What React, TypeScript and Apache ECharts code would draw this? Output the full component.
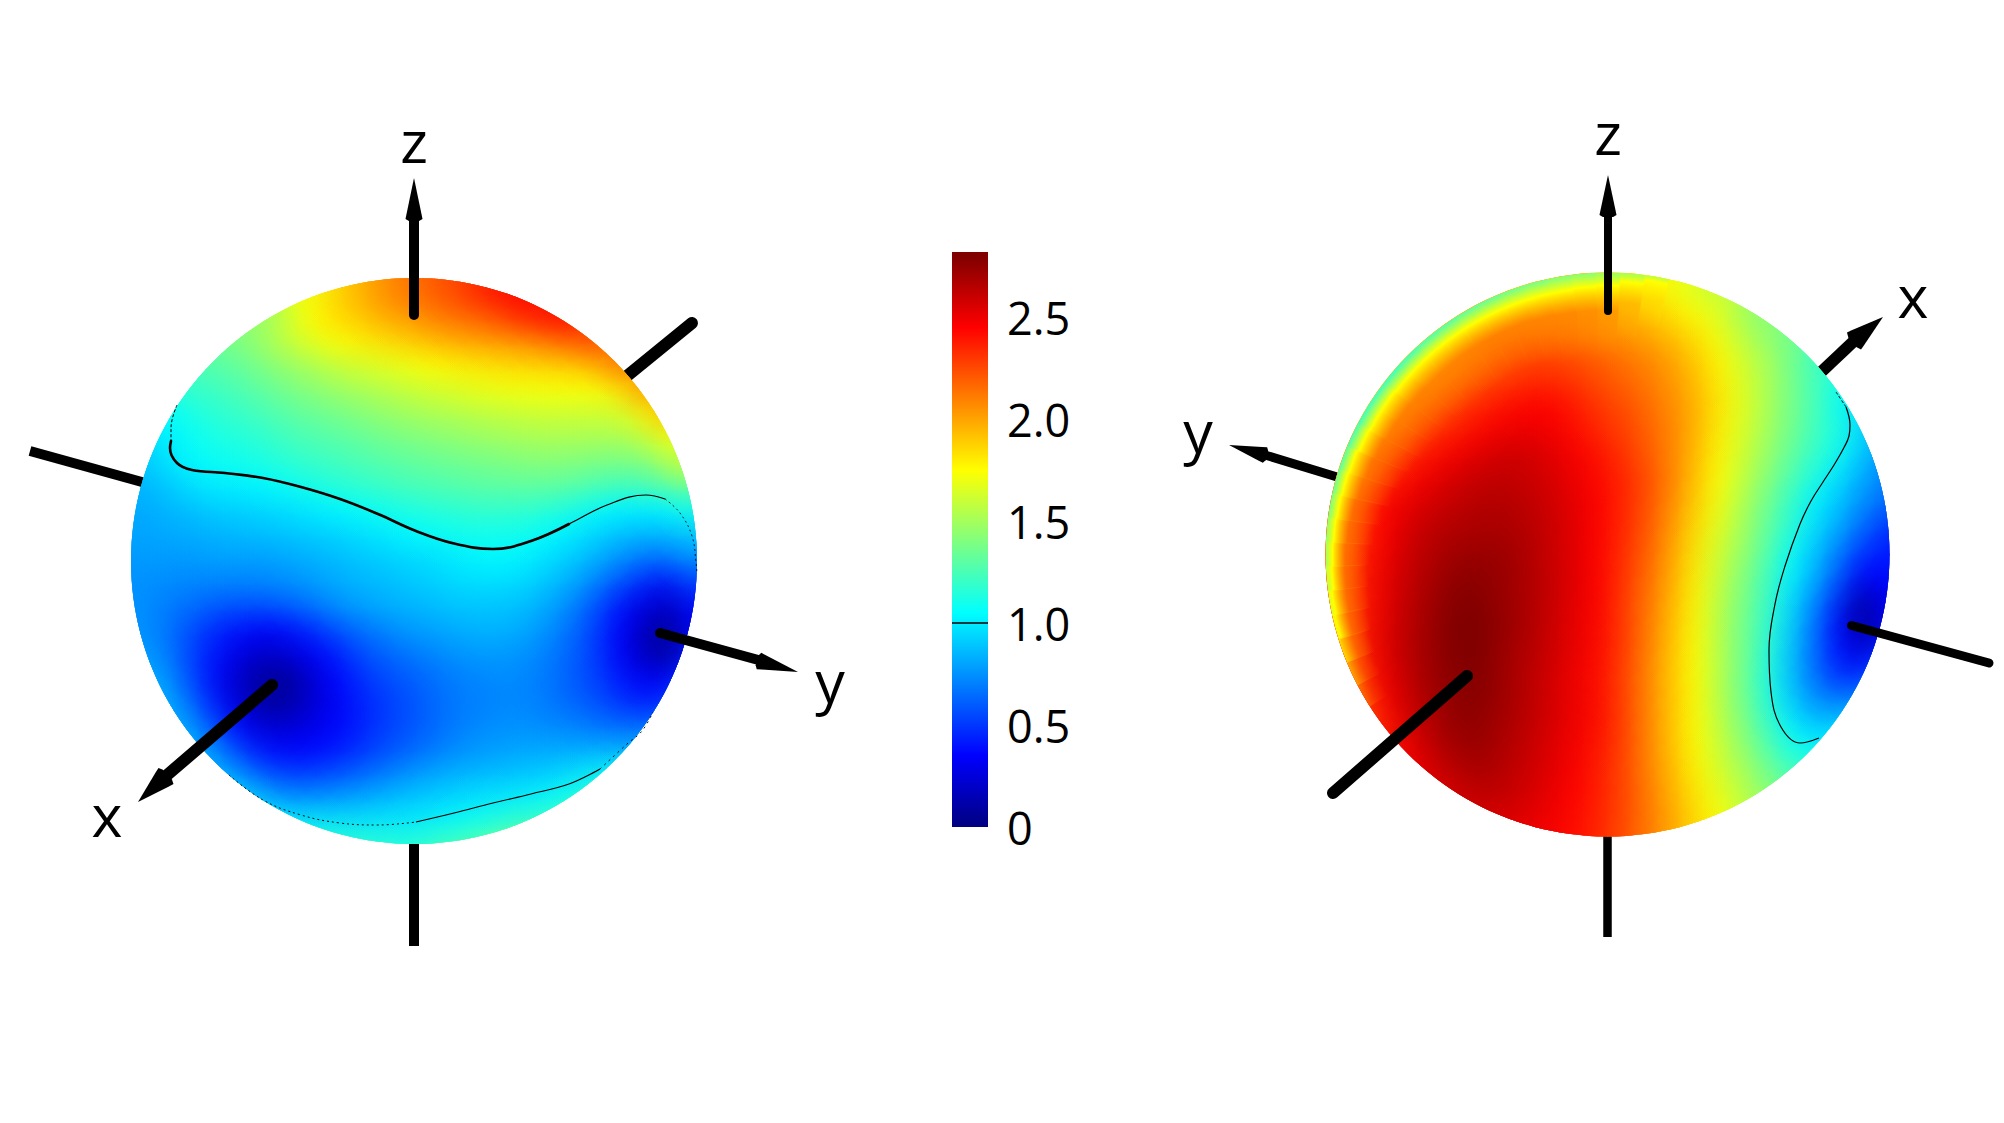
import React, { useEffect, useRef } from "react";
import * as echarts from "echarts";

const _ = null;
const colorbarTicks = [0, 0.5, 1, 1.5, 2, 2.5];
const colorMax = 2.82;
const jetValues = [0, 0.35, 1.05, 1.75, 2.45, 2.8];
const jetColors = [[0, 0, 128], [0, 0, 255], [0, 255, 255], [255, 255, 0], [255, 0, 0], [128, 0, 0]];

const leftField = [
[_,_,_,_,_,_,_,1.7,1.85,1.95,2.05,2.12,2.2,2.25,2.35,2.4,2.45,_,_,_,_,_,_,_],
[_,_,_,_,_,1.45,1.6,1.75,1.85,1.9,1.98,2.03,2.1,2.15,2.2,2.28,2.38,2.42,2.45,_,_,_,_,_],
[_,_,_,_,1.4,1.48,1.58,1.67,1.75,1.8,1.85,1.9,1.95,2.0,2.03,2.06,2.1,2.17,2.22,2.3,_,_,_,_],
[_,_,_,1.3,1.33,1.4,1.47,1.53,1.6,1.65,1.68,1.72,1.76,1.8,1.83,1.86,1.88,1.9,1.93,2.0,2.2,_,_,_],
[_,_,1.2,1.22,1.27,1.32,1.38,1.43,1.48,1.52,1.56,1.6,1.64,1.67,1.7,1.72,1.73,1.74,1.75,1.76,1.85,2.1,_,_],
[_,1.05,1.12,1.17,1.2,1.25,1.3,1.34,1.38,1.42,1.46,1.5,1.53,1.55,1.58,1.6,1.62,1.63,1.63,1.63,1.65,1.8,2.0,_],
[_,1.0,1.07,1.12,1.15,1.18,1.23,1.27,1.3,1.33,1.37,1.4,1.43,1.45,1.48,1.5,1.52,1.53,1.53,1.53,1.53,1.6,1.75,_],
[0.9,0.98,1.03,1.08,1.1,1.13,1.17,1.2,1.23,1.26,1.29,1.32,1.34,1.36,1.38,1.4,1.42,1.43,1.42,1.4,1.4,1.42,1.55,1.7],
[0.85,0.9,0.97,1.01,1.02,1.04,1.08,1.12,1.16,1.19,1.22,1.25,1.27,1.29,1.31,1.32,1.33,1.33,1.32,1.28,1.25,1.27,1.35,1.4],
[0.82,0.85,0.88,0.92,0.93,0.95,0.97,1.0,1.03,1.07,1.1,1.14,1.16,1.18,1.2,1.2,1.2,1.18,1.13,1.07,1.03,1.02,1.05,1.15],
[0.8,0.82,0.83,0.85,0.87,0.88,0.9,0.92,0.94,0.97,1.0,1.04,1.07,1.1,1.11,1.11,1.1,1.05,1.0,0.95,0.9,0.88,0.88,0.95],
[0.78,0.78,0.78,0.8,0.8,0.8,0.82,0.84,0.87,0.9,0.92,0.95,0.97,1.0,1.03,1.04,1.02,0.97,0.92,0.85,0.77,0.7,0.7,0.8],
[0.75,0.74,0.73,0.73,0.73,0.73,0.75,0.78,0.82,0.85,0.87,0.9,0.92,0.95,0.97,0.97,0.95,0.9,0.83,0.72,0.6,0.48,0.42,0.6],
[0.75,0.7,0.67,0.62,0.6,0.6,0.63,0.68,0.75,0.8,0.83,0.85,0.87,0.9,0.9,0.9,0.88,0.82,0.72,0.58,0.42,0.28,0.2,0.4],
[0.75,0.68,0.58,0.48,0.42,0.37,0.4,0.48,0.58,0.66,0.72,0.78,0.8,0.83,0.85,0.85,0.82,0.75,0.65,0.52,0.35,0.17,0.06,0.35],
[0.78,0.7,0.55,0.42,0.3,0.22,0.25,0.33,0.43,0.55,0.62,0.68,0.72,0.76,0.78,0.78,0.76,0.7,0.62,0.5,0.33,0.15,0.07,0.4],
[0.85,0.75,0.57,0.38,0.22,0.1,0.07,0.22,0.35,0.47,0.55,0.6,0.65,0.7,0.72,0.74,0.72,0.68,0.6,0.52,0.4,0.3,0.3,0.5],
[0.9,0.82,0.65,0.42,0.24,0.08,0.08,0.2,0.32,0.42,0.5,0.56,0.62,0.68,0.7,0.72,0.72,0.68,0.62,0.56,0.48,0.4,0.45,0.7],
[_,0.9,0.75,0.55,0.35,0.22,0.2,0.27,0.33,0.42,0.5,0.56,0.62,0.68,0.72,0.74,0.74,0.72,0.7,0.65,0.62,0.6,0.75,_],
[_,_,0.88,0.72,0.52,0.38,0.33,0.35,0.4,0.46,0.54,0.6,0.66,0.72,0.76,0.78,0.8,0.8,0.8,0.8,0.8,0.85,_,_],
[_,_,_,0.88,0.72,0.58,0.5,0.5,0.54,0.6,0.66,0.73,0.78,0.82,0.84,0.86,0.88,0.9,0.95,1.0,1.1,_,_,_],
[_,_,_,_,0.98,0.82,0.72,0.72,0.75,0.78,0.83,0.87,0.9,0.93,0.96,0.98,1.0,1.03,1.1,1.2,_,_,_,_],
[_,_,_,_,_,1.1,1.0,0.97,0.96,0.96,0.97,0.98,1.0,1.03,1.08,1.13,1.18,1.22,1.3,_,_,_,_,_],
[_,_,_,_,_,_,_,1.2,1.18,1.18,1.17,1.15,1.2,1.25,1.3,1.35,1.4,_,_,_,_,_,_,_],
];

const rightField = [
[_,_,_,_,_,_,_,1.8,1.85,1.88,1.9,1.88,1.83,1.78,1.72,1.65,1.55,_,_,_,_,_,_,_],
[_,_,_,_,_,1.85,1.92,1.97,2.0,2.02,2.03,2.02,1.98,1.92,1.8,1.72,1.65,1.5,1.4,_,_,_,_,_],
[_,_,_,_,1.85,1.95,2.05,2.1,2.13,2.13,2.1,2.07,2.03,1.98,1.92,1.82,1.7,1.55,1.45,1.35,_,_,_,_],
[_,_,_,1.85,1.95,2.05,2.13,2.2,2.24,2.25,2.23,2.18,2.13,2.08,2.0,1.9,1.77,1.62,1.5,1.38,1.2,_,_,_],
[_,_,1.8,1.95,2.05,2.14,2.22,2.28,2.33,2.34,2.3,2.24,2.18,2.12,2.04,1.94,1.8,1.65,1.52,1.38,1.25,1.1,_,_],
[_,1.75,1.95,2.07,2.17,2.26,2.34,2.4,2.44,2.44,2.38,2.3,2.24,2.16,2.07,1.97,1.82,1.67,1.52,1.38,1.25,1.08,0.95,_],
[_,1.9,2.05,2.18,2.28,2.36,2.43,2.48,2.5,2.48,2.42,2.34,2.28,2.19,2.09,1.97,1.8,1.65,1.5,1.37,1.23,1.13,0.93,_],
[1.8,2.05,2.2,2.3,2.4,2.47,2.53,2.57,2.57,2.53,2.47,2.4,2.31,2.21,2.09,1.95,1.78,1.62,1.47,1.33,1.2,1.08,0.9,0.75],
[1.9,2.12,2.3,2.42,2.5,2.56,2.6,2.62,2.6,2.56,2.5,2.43,2.35,2.25,2.1,1.93,1.75,1.58,1.43,1.27,1.13,0.97,0.82,0.7],
[2.05,2.27,2.42,2.5,2.56,2.61,2.65,2.66,2.63,2.58,2.52,2.45,2.35,2.24,2.08,1.9,1.72,1.53,1.37,1.2,1.02,0.9,0.75,0.65],
[2.1,2.3,2.45,2.55,2.62,2.66,2.68,2.68,2.65,2.6,2.53,2.45,2.35,2.22,2.05,1.86,1.68,1.5,1.33,1.17,0.97,0.83,0.65,0.5],
[2.12,2.33,2.47,2.58,2.65,2.7,2.72,2.72,2.67,2.6,2.53,2.45,2.33,2.2,2.02,1.83,1.63,1.47,1.3,1.08,0.9,0.72,0.52,0.42],
[2.15,2.35,2.5,2.6,2.68,2.75,2.76,2.73,2.68,2.61,2.53,2.45,2.32,2.17,2.0,1.8,1.6,1.42,1.25,1.03,0.85,0.62,0.36,0.4],
[2.15,2.35,2.5,2.62,2.7,2.78,2.78,2.73,2.68,2.61,2.53,2.45,2.3,2.15,1.97,1.78,1.57,1.4,1.22,0.97,0.75,0.48,0.13,0.35],
[2.1,2.35,2.52,2.63,2.72,2.8,2.8,2.75,2.68,2.6,2.52,2.44,2.3,2.13,1.95,1.77,1.55,1.38,1.2,0.93,0.68,0.37,0.03,0.3],
[2.0,2.35,2.52,2.64,2.72,2.8,2.8,2.73,2.67,2.6,2.52,2.43,2.3,2.12,1.93,1.76,1.55,1.38,1.17,0.9,0.65,0.38,0.2,0.4],
[1.9,2.3,2.5,2.62,2.72,2.78,2.8,2.72,2.65,2.58,2.5,2.42,2.28,2.1,1.92,1.75,1.55,1.37,1.15,0.88,0.65,0.45,0.4,0.6],
[1.8,2.25,2.47,2.6,2.7,2.77,2.78,2.72,2.65,2.57,2.5,2.42,2.28,2.1,1.92,1.76,1.55,1.37,1.15,0.9,0.72,0.6,0.65,0.8],
[_,2.15,2.4,2.57,2.67,2.75,2.76,2.7,2.64,2.57,2.5,2.42,2.28,2.1,1.92,1.76,1.57,1.4,1.2,0.98,0.83,0.85,0.95,_],
[_,_,2.35,2.52,2.63,2.72,2.74,2.68,2.62,2.55,2.48,2.4,2.28,2.1,1.93,1.76,1.6,1.44,1.27,1.08,1.0,1.02,_,_],
[_,_,_,2.45,2.58,2.66,2.7,2.66,2.6,2.54,2.47,2.38,2.27,2.1,1.95,1.78,1.63,1.5,1.35,1.22,1.15,_,_,_],
[_,_,_,_,2.52,2.6,2.64,2.63,2.58,2.52,2.45,2.37,2.27,2.12,1.97,1.82,1.68,1.55,1.42,1.3,_,_,_,_],
[_,_,_,_,_,2.55,2.58,2.58,2.54,2.5,2.43,2.36,2.26,2.13,2.0,1.85,1.72,1.6,1.48,_,_,_,_,_],
[_,_,_,_,_,_,_,2.52,2.5,2.47,2.42,2.35,2.25,2.13,2.0,1.88,1.75,_,_,_,_,_,_,_],
];

// rim of the right sphere: angle (deg, counter-clockwise), value on the edge, depth of yellow, depth and value of the inner stop, strength
const rimAngles = [80, 85, 90, 95, 100, 105, 110, 115, 120, 125, 130, 135, 140, 145, 150, 155, 160, 165, 170, 175, 180, 185, 190, 195, 200, 205, 210];
const rimEdge = [1.55, 1.5, 1.45, 1.42, 1.4, 1.37, 1.35, 1.32, 1.3, 1.27, 1.25, 1.22, 1.2, 1.2, 1.2, 1.24, 1.28, 1.33, 1.38, 1.44, 1.5, 1.57, 1.65, 1.72, 1.8, 1.9, 2.0];
const rimYellow = [5, 9, 13, 14, 15, 15, 15, 15, 15, 15, 15, 15, 15, 14, 14, 13, 11, 10, 9, 8, 7, 6, 4, 3, 0, 0, 0];
const rimInnerDepth = [24, 30, 38, 38, 38, 37, 36, 36, 36, 36, 36, 36, 35, 34, 33, 31, 29, 27, 24, 22, 20, 19, 18, 16, 14, 12, 10];
const rimInnerValue = [1.85, 1.95, 2.05, 2.08, 2.1, 2.1, 2.1, 2.1, 2.1, 2.1, 2.1, 2.1, 2.1, 2.1, 2.1, 2.1, 2.1, 2.1, 2.1, 2.1, 2.1, 2.1, 2.1, 2.1, 2.1, 2.15, 2.2];
const rimStrength = [1, 1, 1, 1, 1, 1, 1, 1, 1, 1, 1, 1, 1, 1, 1, 1, 1, 1, 1, 1, 1, 1, 1, 0.95, 0.85, 0.6, 0.35];

const isoUpperFull = [[171,441],[170,448],[177,463],[192,470],[225,473],[263,478],[301,487],[340,499],[378,514],[416,531],[454,543.5],[493,549],[531,541],[569,524],[607,505],[646,495],[665,499]];
const isoUpperThick = [[171,441],[170,448],[177,463],[192,470],[225,473],[263,478],[301,487],[340,499],[378,514],[416,531],[454,543.5],[493,549],[531,541],[569,524]];
const isoUpperDash = [[665,499],[680,513],[692,536],[696,562],[697,574]];
const isoUpperLeftDash = [[177,405],[171,428],[171,441]];
const isoLower = [[416,822],[454,813],[493,803],[531,794],[569,784],[600,769]];
const isoLowerDash = [[229,775],[263,800],[301,815],[340,823],[378,825],[416,822]];
const isoLowerDash2 = [[600,769],[627,744],[642,731],[653,712]];
const isoRight = [[1846,407],[1850,425],[1849,436],[1844,447.5],[1834,465],[1823,482],[1811,501],[1800,524],[1785,566],[1775,604],[1769,650],[1771,692],[1781,727],[1800,743],[1819,738]];
const isoRightDash = [[1836,392],[1846,407]];

const backSticks = [
  { p: [[600,398],[692,323]], w: 12, cap: "round" },
  { p: [[30,451],[160,487]], w: 10, cap: "butt" },
  { p: [[414,820],[414,946]], w: 10, cap: "butt" },
  { p: [[1607.5,820],[1607.5,937]], w: 8.5, cap: "butt" },
  { p: [[1800,392],[1854,341]], w: 12, cap: "butt" },
  { p: [[1360,484],[1265,455]], w: 9, cap: "butt" },
];
const frontSticks = [
  { p: [[414,315],[414,215]], w: 10, cap: "round" },
  { p: [[272,685],[166,776]], w: 12, cap: "round" },
  { p: [[660,633],[762,661]], w: 10, cap: "round" },
  { p: [[1608,311],[1608,210]], w: 8, cap: "round" },
  { p: [[1467,676],[1333,793]], w: 12, cap: "round" },
  { p: [[1851.5,625.5],[1989,663]], w: 9, cap: "round" },
];
const arrowHeads = [
  { tip: [414,178], base: [414,219], hw: 8.5 },
  { tip: [138,802], base: [166,776], hw: 11 },
  { tip: [798,672], base: [759,661], hw: 8.5 },
  { tip: [1608,175], base: [1608,215], hw: 8.5 },
  { tip: [1883,317], base: [1854,341], hw: 11 },
  { tip: [1229,445], base: [1265,455], hw: 8 },
];
const axisLetters = [
  { t: "z", x: 414, y: 110 }, { t: "x", x: 107, y: 784 }, { t: "y", x: 830, y: 650 },
  { t: "z", x: 1608, y: 102 }, { t: "x", x: 1913, y: 265 }, { t: "y", x: 1198, y: 400 },
];

function jet(v: number): number[] {
  const c = Math.max(0, Math.min(2.8, v));
  for (let k = 0; k < jetValues.length - 1; k++) {
    if (c <= jetValues[k + 1]) {
      const t = (c - jetValues[k]) / (jetValues[k + 1] - jetValues[k]);
      return jetColors[k].map((a, n) => Math.round(a + (jetColors[k + 1][n] - a) * t));
    }
  }
  return jetColors[jetColors.length - 1];
}
const rgba = (v: number, a: number) => { const c = jet(v); return `rgba(${c[0]},${c[1]},${c[2]},${a})`; };

const CELL = 24;
function fieldChildren(field: (number | null)[][], cx: number, cy: number, api: any) {
  const cells: { x: number; y: number; v: number }[] = [];
  field.forEach((row, i) => row.forEach((v, j) => {
    if (v === null) return;
    const p = api.coord([cx + (j - 11.5) * CELL, cy + (i - 11.5) * CELL]);
    cells.push({ x: p[0], y: p[1], v });
  }));
  const rects = cells.map((c) => ({
    type: "rect", shape: { x: c.x - 13, y: c.y - 13, width: 26, height: 26 }, style: { fill: rgba(c.v, 1) },
  }));
  const splat = (c: { x: number; y: number; v: number }) => ({
    type: "circle", shape: { cx: c.x, cy: c.y, r: 42 },
    style: { fill: { type: "radial", x: 0.5, y: 0.5, r: 0.5, colorStops: [
      { offset: 0, color: rgba(c.v, 0.6) }, { offset: 0.35, color: rgba(c.v, 0.42) },
      { offset: 0.7, color: rgba(c.v, 0.12) }, { offset: 1, color: rgba(c.v, 0) },
    ] } },
  });
  return [...rects, ...cells.map(splat), ...cells.slice().reverse().map(splat)];
}

function rimChildren(cx: number, cy: number, r: number) {
  return rimAngles.map((a, k) => {
    const o = rimInnerDepth[k], yd = rimYellow[k], e = rimEdge[k], s = rimStrength[k];
    const inner = r - o * 2.2;
    const stops: any[] = [
      { offset: inner / r, color: rgba(rimInnerValue[k], 0) },
      { offset: 1 - o / r, color: rgba(rimInnerValue[k], 0.6 * s) },
    ];
    if (yd > 0) stops.push({ offset: 1 - yd / r, color: rgba(1.75, s) });
    stops.push({ offset: 1, color: rgba(e, s) });
    return {
      type: "sector",
      shape: { cx, cy, r, r0: inner, startAngle: -(a + 2.6) * Math.PI / 180, endAngle: -(a - 2.6) * Math.PI / 180, clockwise: true },
      style: { fill: { type: "radial", x: cx, y: cy, r, global: true, colorStops: stops } },
    };
  });
}

function sphere(field: (number | null)[][], cx: number, cy: number, r: number, rim: boolean) {
  return {
    type: "custom", coordinateSystem: "cartesian2d", xAxisIndex: 0, yAxisIndex: 0, z: 2, silent: true, clip: false,
    data: [[cx, cy]],
    renderItem: (_p: any, api: any) => ({
      type: "group",
      clipPath: { type: "circle", shape: { cx, cy, r } },
      children: [...fieldChildren(field, cx, cy, api), ...(rim ? rimChildren(cx, cy, r) : [])],
    }),
  };
}

const lineSeries = (p: number[][], w: number, z: number, cap = "butt", dash: any = "solid", smooth: number | boolean = false) => ({
  type: "line", xAxisIndex: 0, yAxisIndex: 0, data: p, z, silent: true, symbol: "none", smooth, clip: false,
  lineStyle: { color: "#000", width: w, cap, type: dash, opacity: 1 },
});

const option = () => ({
  animation: false,
  backgroundColor: "#fff",
  grid: [
    { left: 0, right: 0, top: 0, bottom: 0 },
    { left: 952, top: 252, width: 36, height: 575 },
  ],
  xAxis: [
    { type: "value", min: 0, max: 2004, show: false, gridIndex: 0 },
    { type: "category", data: ["bar"], show: false, gridIndex: 1 },
  ],
  yAxis: [
    { type: "value", min: 0, max: 1123, inverse: true, show: false, gridIndex: 0 },
    {
      type: "value", min: 0, max: colorMax, interval: 0.5, gridIndex: 1, position: "right", splitLine: { show: false },
      axisLine: { show: false },
      axisTick: { show: true, inside: true, length: 9, customValues: colorbarTicks.slice(1), lineStyle: { color: "#000", width: 1.5 } },
      axisLabel: {
        margin: 19, color: "#000", fontFamily: "Open Sans", fontSize: 45, align: "left", padding: [0, 0, 6, 0],
        customValues: colorbarTicks,
        formatter: (v: number) => (v === 0 ? "0" : v.toFixed(1)),
      },
    },
    {
      type: "value", min: 0, max: colorMax, interval: 0.5, gridIndex: 1, position: "left", splitLine: { show: false },
      axisLine: { show: false }, axisLabel: { show: false },
      axisTick: { show: true, inside: true, length: 9, customValues: colorbarTicks.slice(1), lineStyle: { color: "#000", width: 1.5 } },
    },
  ],
  graphic: axisLetters.map((l) => ({
    type: "text", x: l.x, y: l.y, z: 10,
    style: { text: l.t, fill: "#000", fontFamily: "Open Sans", fontSize: 59, textAlign: "center" },
  })),
  series: [
    ...backSticks.map((s) => lineSeries(s.p, s.w, 1, s.cap)),
    sphere(leftField, 414, 561, 283, false),
    sphere(rightField, 1607.5, 554.5, 282, true),
    lineSeries(isoUpperFull, 1.2, 3, "round", "solid", 0.4),
    lineSeries(isoUpperThick, 2.6, 3, "round", "solid", 0.4),
    lineSeries(isoUpperDash, 0.8, 3, "butt", [2, 3], 0.4),
    lineSeries(isoUpperLeftDash, 1, 3, "butt", [3, 2], 0.4),
    lineSeries(isoLower, 1.1, 3, "butt", "solid", 0.4),
    lineSeries(isoLowerDash, 0.9, 3, "butt", [2, 3], 0.4),
    lineSeries(isoLowerDash2, 0.9, 3, "butt", [2, 4], 0.4),
    lineSeries(isoRight, 1.2, 3, "butt", "solid", 0.4),
    lineSeries(isoRightDash, 0.9, 3, "butt", [3, 2], 0.2),
    ...frontSticks.map((s) => lineSeries(s.p, s.w, 4, s.cap)),
    {
      type: "custom", coordinateSystem: "cartesian2d", xAxisIndex: 0, yAxisIndex: 0, z: 4, silent: true, clip: false,
      data: arrowHeads.map((h, i) => [h.tip[0], h.tip[1], i]),
      renderItem: (_p: any, api: any) => {
        const h = arrowHeads[api.value(2)];
        const tip = api.coord(h.tip), base = api.coord(h.base);
        const dx = tip[0] - base[0], dy = tip[1] - base[1];
        const len = Math.hypot(dx, dy), ux = dx / len, uy = dy / len, nx = -uy, ny = ux;
        const P = (a: number, b: number) => [base[0] + ux * a + nx * b, base[1] + uy * a + ny * b];
        return {
          type: "polygon",
          shape: { points: [tip, P(5, h.hw * 0.88), P(0, h.hw), P(-2, h.hw * 0.6), P(-2, -h.hw * 0.6), P(0, -h.hw), P(5, -h.hw * 0.88)] },
          style: { fill: "#000" },
        };
      },
    },
    {
      type: "bar", xAxisIndex: 1, yAxisIndex: 1, data: [colorMax], barWidth: "100%", silent: true, z: 2,
      itemStyle: {
        color: {
          type: "linear", x: 0, y: 1, x2: 0, y2: 0,
          colorStops: jetValues.map((v) => ({ offset: v / colorMax, color: rgba(v, 1) })),
        },
      },
      markLine: {
        symbol: "none", silent: true, label: { show: false }, z: 5,
        lineStyle: { color: "#000", width: 1.6, type: "solid" },
        data: [{ yAxis: 1 }],
      },
    },
  ],
});

export default function App() {
  const ref = useRef<HTMLDivElement>(null);
  useEffect(() => {
    document.body.style.margin = "0";
    const chart = echarts.init(ref.current!, undefined, { renderer: "svg" });
    chart.setOption(option() as any);
    return () => chart.dispose();
  }, []);
  return <div ref={ref} style={{ position: "absolute", left: 0, top: 0, width: 2004, height: 1123 }} />;
}
